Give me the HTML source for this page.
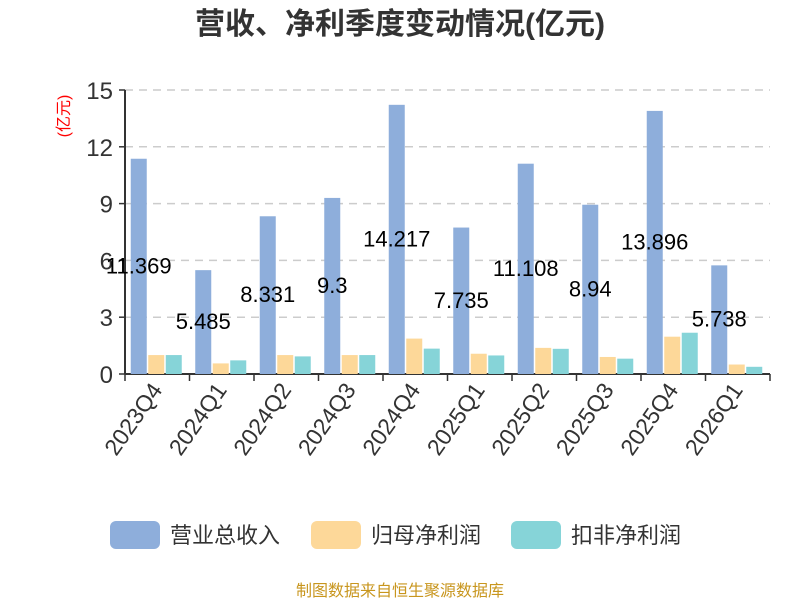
<!DOCTYPE html>
<html><head><meta charset="utf-8"><style>
body{margin:0;background:#fff;}
svg text{font-family:"Liberation Sans","Noto Sans CJK SC",sans-serif;}
</style></head><body>
<svg id="c" width="800" height="600" xmlns="http://www.w3.org/2000/svg">
<text x="400" y="34" text-anchor="middle" font-size="30" font-weight="bold" fill="#333">营收、净利季度变动情况(亿元)</text>
<text transform="translate(69,116) rotate(-90)" text-anchor="middle" font-size="16" fill="#f00">(亿元)</text>
<g id="grid"></g><g id="bars"></g><g id="labels"></g>
<g>
<rect x="110" y="521" width="50" height="28" rx="6" fill="#8eaedb"/>
<text x="170" y="543" font-size="22" fill="#333">营业总收入</text>
<rect x="311" y="521" width="50" height="28" rx="6" fill="#fdd899"/>
<text x="371" y="543" font-size="22" fill="#333">归母净利润</text>
<rect x="511" y="521" width="50" height="28" rx="6" fill="#86d4d8"/>
<text x="571" y="543" font-size="22" fill="#333">扣非净利润</text>
</g>
<text x="400" y="596" text-anchor="middle" font-size="16" fill="#c8961e">制图数据来自恒生聚源数据库</text>
</svg>
<script>
const categories=["2023Q4","2024Q1","2024Q2","2024Q3","2024Q4","2025Q1","2025Q2","2025Q3","2025Q4","2026Q1"];
const revenue=[11.369,5.485,8.331,9.3,14.217,7.735,11.108,8.94,13.896,5.738];
const netProfit=[1.0,0.56,1.0,1.0,1.87,1.07,1.38,0.9,1.97,0.5];
const deductedProfit=[1.0,0.72,0.93,1.0,1.34,0.98,1.33,0.81,2.18,0.38];
const yTicks=[0,3,6,9,12,15];
const NS="http://www.w3.org/2000/svg";
const X0=125,X1=770,Y0=374,Y1=90,YMAX=15;
const band=(X1-X0)/categories.length;
const y=v=>Y0-(v/YMAX)*(Y0-Y1);
const xb=i=>X0+i*band;
function mk(tag,attrs,parent){const e=document.createElementNS(NS,tag);for(const k in attrs)e.setAttribute(k,attrs[k]);parent.appendChild(e);return e;}
const grid=document.getElementById('grid'),bars=document.getElementById('bars'),labels=document.getElementById('labels');
yTicks.forEach(t=>{
  if(t>0){const l=mk('line',{x1:X0,x2:X1,y1:y(t),y2:y(t),stroke:'#ccc','stroke-dasharray':'8,6','stroke-width':1.5},grid);
  
  }
  const tk=mk('line',{x1:X0-6,x2:X0,y1:y(t),y2:y(t),stroke:'#333','stroke-width':1.5},grid);
  
  
  const tx=mk('text',{x:X0-12,y:y(t)+9,'text-anchor':'end','font-size':24,fill:'#333'},grid);
  tx.textContent=t;
  
  
});
const ya=mk('line',{x1:X0,x2:X0,y1:Y1,y2:Y0,stroke:'#333','stroke-width':2},grid);


const xa=mk('line',{x1:X0,x2:X1,y1:Y0,y2:Y0,stroke:'#333','stroke-width':2},grid);


for(let i=0;i<=categories.length;i++){
  const t=mk('line',{x1:xb(i),x2:xb(i),y1:Y0,y2:Y0+7,stroke:'#333','stroke-width':1.5},grid);
  
  
}
const series=[[revenue,'#8eaedb','bar-revenue'],[netProfit,'#fdd899','bar-net-profit'],[deductedProfit,'#86d4d8','bar-deducted-profit']];
const bw=16,gap=1.5;
categories.forEach((c,i)=>{
  const start=xb(i)+(band-(3*bw+2*gap))/2-1;
  series.forEach((s,j)=>{
    const v=s[0][i];
    const r=mk('rect',{x:start+j*(bw+gap),y:y(v),width:bw,height:Y0-y(v),fill:s[1]},bars);
    
    
  });
  const cx=start+bw/2;
  const lb=mk('text',{x:cx,y:y(revenue[i]/2)+7,'text-anchor':'middle','font-size':22,fill:'#000'},labels);
  lb.textContent=revenue[i];
  
  
  const xl=mk('text',{x:0,y:0,'text-anchor':'end','font-size':23,fill:'#333',transform:`translate(${xb(i)+band/2+6},${Y0+16}) rotate(-55)`},labels);
  xl.textContent=c;
  
  
});
</script>
</body></html>
